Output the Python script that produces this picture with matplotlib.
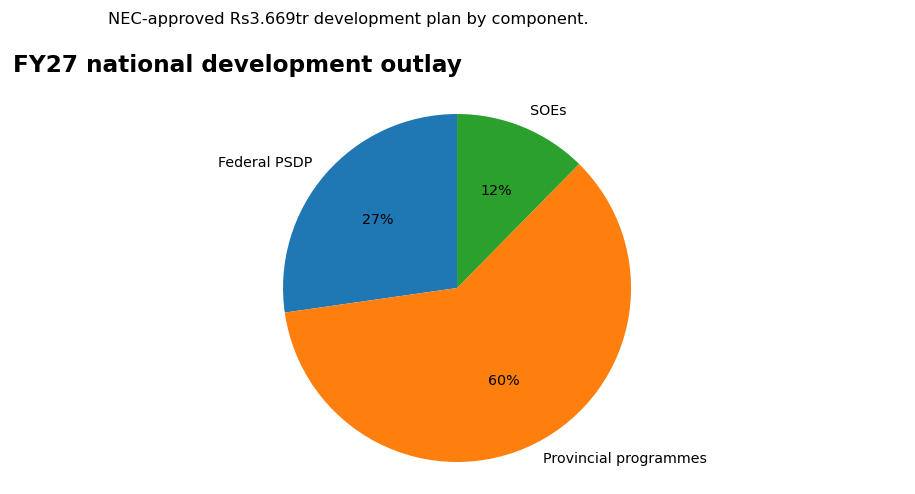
import matplotlib
matplotlib.use("Agg")
import matplotlib.pyplot as plt

# Components of the Rs3.669tr plan (Rs trillion, estimated)
components = ["Federal PSDP", "Provincial programmes", "SOEs"]
outlay_tr = [1.000, 2.215, 0.454]
colors = ["#1f77b4", "#ff7f0e", "#2ca02c"]

fig = plt.figure(figsize=(9.15, 4.94), dpi=100)
ax = fig.add_axes([0.2903, 0.02955, 0.4184, 0.7749])

ax.pie(outlay_tr, labels=components, colors=colors, autopct="%1.0f%%",
       startangle=90, textprops={"fontsize": 10.3})
ax.set_xlim(-1.1, 1.1)
ax.set_ylim(-1.1, 1.1)
ax.set_aspect("equal")

fig.text(0.381, 0.96, "NEC-approved Rs3.669tr development plan by component.",
         ha="center", va="center", fontsize=11.7)
fig.text(13 / 915, 0.868, "FY27 national development outlay",
         ha="left", va="center", fontsize=16.7, fontweight="bold")

fig.savefig("out.png", dpi=100)
